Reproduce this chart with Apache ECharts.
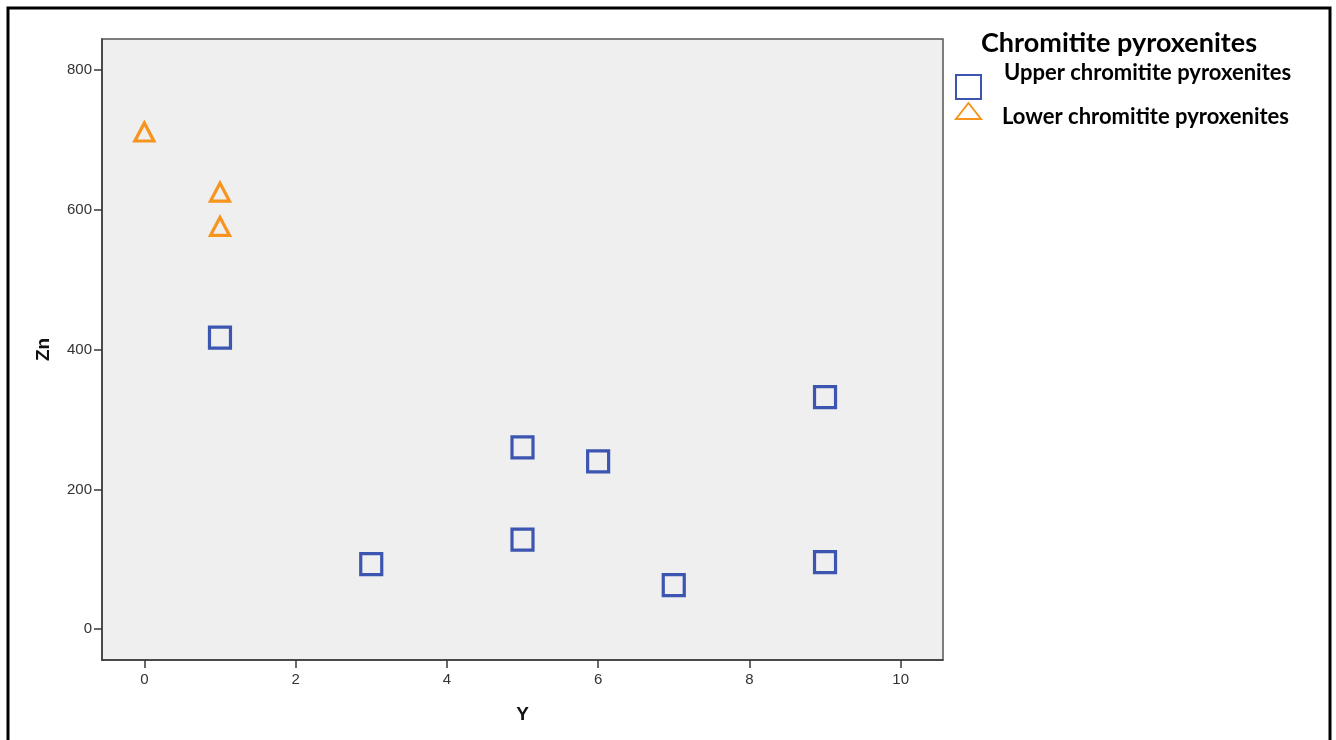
<!DOCTYPE html>
<html>
<head>
<meta charset="utf-8">
<script src="https://cdn.jsdelivr.net/npm/echarts@6/dist/echarts.min.js"></script>
<style>
  html, body { margin: 0; padding: 0; background: #fff; }
  #chart { width: 1336px; height: 740px; }
</style>
</head>
<body>
<div id="chart"></div>
<script>
// Y vs Zn for the chromitite pyroxenite groups
const groupTitle = 'Chromitite pyroxenites';
const upperName = 'Upper chromitite pyroxenites';
const lowerName = 'Lower chromitite pyroxenites';

const upperY  = [1, 3, 5, 5, 6, 7, 9, 9];
const upperZn = [417, 93, 260, 128, 240, 63, 332, 96];

const lowerY  = [0, 1, 1];
const lowerZn = [711, 625, 576];

const xTicks = [0, 2, 4, 6, 8, 10];
const yTicks = [0, 200, 400, 600, 800];

const pair = (xs, ys) => xs.map((x, i) => [x, ys[i]]);

const blue = '#3c55b1';
const orange = '#f7941e';
const axisColor = '#3a3a3a';
const tickFont = { fontFamily: 'Liberation Sans', fontSize: 15, color: '#333' };
const nameFont = { fontFamily: 'Liberation Sans', fontSize: 19, fontWeight: 'bold', color: '#111' };
const legendFont = { fontFamily: 'Lato', fontWeight: 'bold', fontSize: 22, lineHeight: 26, color: '#000' };

const chart = echarts.init(document.getElementById('chart'), null, { renderer: 'canvas' });

chart.setOption({
  backgroundColor: '#fff',
  animation: false,
  title: {
    text: groupTitle,
    left: 976,
    top: 25,
    textStyle: { fontFamily: 'Lato', fontWeight: 'bold', fontSize: 27, color: '#000' }
  },
  legend: [
    {
      left: 955, top: 62, padding: 0,
      itemWidth: 25, itemHeight: 24,
      data: [upperName],
      formatter: '{t|{name}}',
      textStyle: { rich: { t: { ...legendFont, padding: [0, 0, 28, 18] } } }
    },
    {
      left: 955, top: 94, padding: 0,
      itemWidth: 25, itemHeight: 16,
      data: [lowerName],
      formatter: '{t|{name}}',
      textStyle: { rich: { t: { ...legendFont, padding: [12, 0, 0, 16] } } }
    }
  ],
  grid: {
    left: 102, top: 39, right: 393, bottom: 80,
    show: true,
    backgroundColor: '#efefef',
    borderColor: '#555',
    borderWidth: 1.5,
    containLabel: false
  },
  xAxis: {
    type: 'value',
    min: -0.56, max: 10.56,
    name: 'Y',
    nameLocation: 'middle',
    nameGap: 45,
    nameTextStyle: nameFont,
    splitLine: { show: false },
    axisLine: { show: true, onZero: false, lineStyle: { color: axisColor, width: 1.5 } },
    axisTick: { show: true, length: 8, customValues: xTicks, lineStyle: { color: axisColor, width: 1.5 } },
    axisLabel: { customValues: xTicks, margin: 12, ...tickFont }
  },
  yAxis: {
    type: 'value',
    min: -44, max: 844,
    name: 'Zn',
    nameLocation: 'middle',
    nameRotate: 90,
    nameGap: 49,
    nameTextStyle: nameFont,
    splitLine: { show: false },
    axisLine: { show: true, onZero: false, lineStyle: { color: axisColor, width: 1.5 } },
    axisTick: { show: true, length: 8, customValues: yTicks, lineStyle: { color: axisColor, width: 1.5 } },
    axisLabel: { customValues: yTicks, margin: 10, ...tickFont }
  },
  series: [
    {
      name: upperName,
      type: 'scatter',
      symbol: 'rect',
      symbolSize: 21,
      itemStyle: { color: 'transparent', borderColor: blue, borderWidth: 3.2, opacity: 1 },
      data: pair(upperY, upperZn)
    },
    {
      name: lowerName,
      type: 'scatter',
      symbol: 'triangle',
      symbolSize: [19, 18],
      itemStyle: { color: 'transparent', borderColor: orange, borderWidth: 3.2, opacity: 1 },
      data: pair(lowerY, lowerZn)
    }
  ],
  graphic: [
    {
      type: 'rect',
      silent: true,
      shape: { x: 8, y: 8, width: 1322, height: 800 },
      style: { fill: null, stroke: '#000', lineWidth: 3 }
    }
  ]
});
</script>
</body>
</html>
